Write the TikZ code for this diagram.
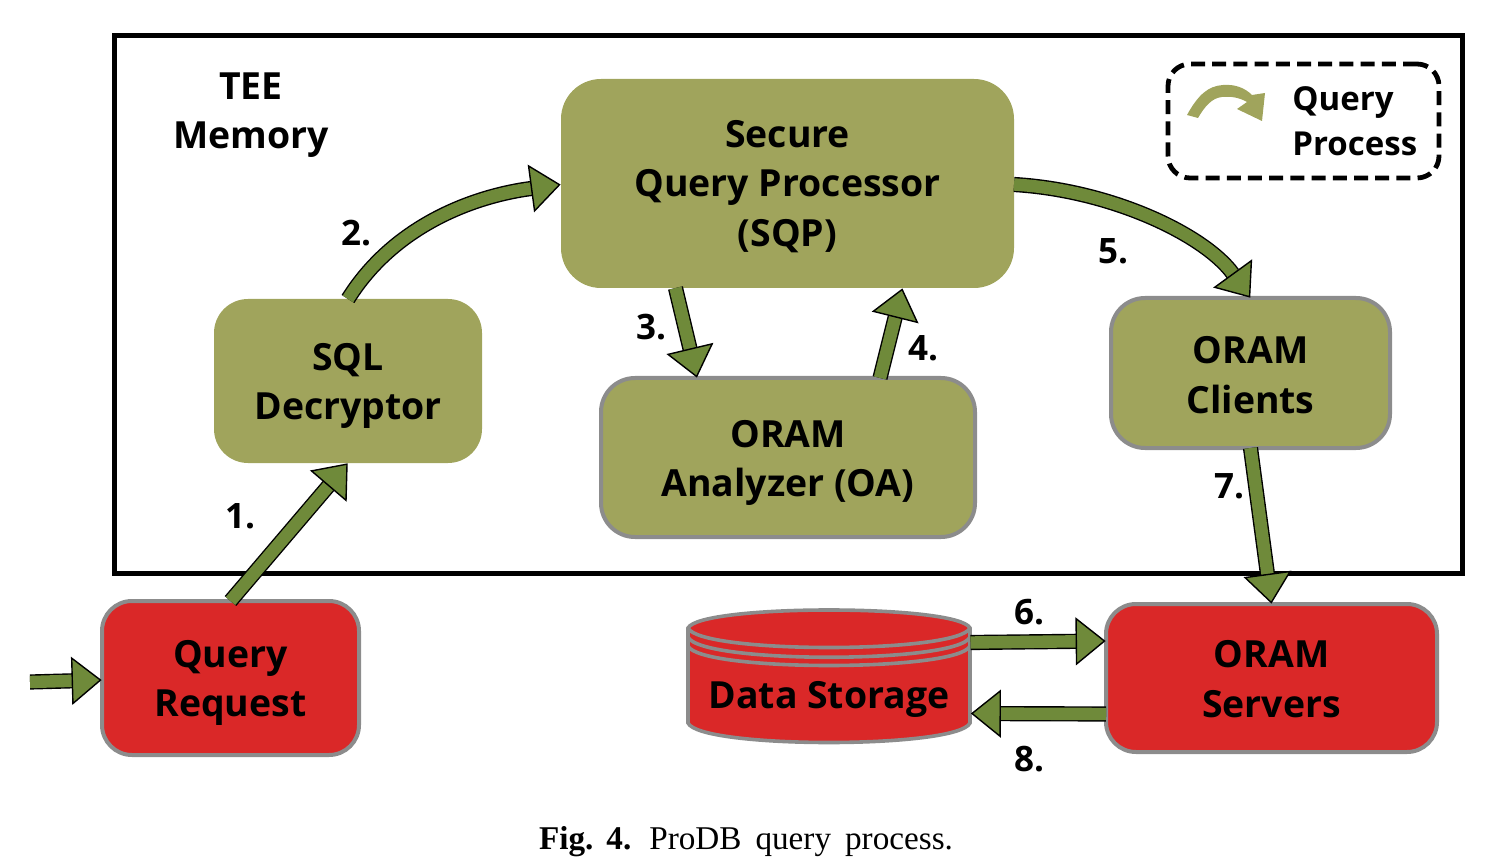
\documentclass[tikz,border=0pt]{standalone}
\usepackage{fontspec}
\setmainfont{Open Sans}
\newfontfamily\capfont{Liberation Serif}
\usetikzlibrary{arrows.meta,calc}
\definecolor{olivebox}{HTML}{A0A45C}
\definecolor{redbox}{HTML}{DA2828}
\definecolor{greyline}{HTML}{8C8C8C}
\definecolor{flowgreen}{HTML}{6F8A3A}
\newcommand{\dn}[1]{\rule{0pt}{\dimexpr13.6pt+#1pt\relax}}
\tikzset{
  base/.style={inner sep=0pt,outer sep=0pt,align=center,font=\fontsize{18.7}{24.6}\selectfont\bfseries},
  olive/.style={base,fill=olivebox,rounded corners=17pt},
  olivegrey/.style={olive,draw=greyline,line width=2pt},
  redcard/.style={base,fill=redbox,draw=greyline,line width=2pt,rounded corners=15pt},
  lab/.style={inner sep=0pt,font=\fontsize{17.5}{20}\selectfont\bfseries},
  flow/.style={draw=black,line width=.7pt,double=flowgreen,double distance=6.2pt,
    -{Triangle[length=15pt,width=24pt,fill=flowgreen,line width=.7pt]},shorten >=.2pt},
  legendtext/.style={inner sep=0pt,anchor=west,font=\fontsize{16.5}{20}\selectfont\bfseries},
}
\begin{document}
\begin{tikzpicture}[x=.5pt,y=-.5pt]
\useasboundingbox (0,0) rectangle (1500,861);
% frame
\node[draw=black,line width=2.5pt,inner sep=0pt,outer sep=0pt,minimum width=674pt,minimum height=268.5pt] (tee) at (788,304.5) {};
\node[base] (teelabel) at (251,115) {TEE\\Memory};
% legend
\node[draw=black,line width=2.4pt,dash pattern=on 7pt off 3.6pt,rounded corners=11pt,inner sep=0pt,outer sep=0pt,minimum width=135.5pt,minimum height=57pt] (legend) at (1303.5,121) {};
\fill[olivebox] (1187,115) .. controls (1198,95) and (1208,86) .. (1223,85)
  .. controls (1235,84) and (1245,88) .. (1252,95) -- (1265,93) -- (1262,121) -- (1237,109) -- (1247,102)
  .. controls (1240,98) and (1232,96) .. (1222,97)
  .. controls (1212,98) and (1205,106) .. (1198,118) -- cycle;
\node[legendtext] (lq) at (1292,103) {Query};
\node[legendtext] (lp) at (1292,144) {Process};
% cylinder
\node[inner sep=0pt,outer sep=0pt,minimum width=141.5pt,minimum height=66.5pt] (store) at (829,676.5) {};
\filldraw[fill=redbox,draw=greyline,line width=1.8pt]
  (688,628) .. controls (700,604) and (958,604) .. (970,628)
  -- (970,723) .. controls (958,749) and (700,749) .. (688,723) -- cycle;
\draw[greyline,line width=1.8pt] (688,628) .. controls (700,654) and (958,654) .. (970,628);
\draw[greyline,line width=1.8pt] (688,637) .. controls (700,664) and (958,664) .. (970,637);
\draw[greyline,line width=1.8pt] (688,646) .. controls (700,672) and (958,672) .. (970,646);
\node[base] (storelabel) at (829,699) {Data Storage};
% boxes
\coordinate (inlet) at (30,682);
\node[olive,minimum width=134pt,minimum height=82pt] (sql) at (348,381) {\dn{5}SQL\\Decryptor};
\node[olive,minimum width=226.5pt,minimum height=104.5pt,rounded corners=20pt] (sqp) at (787.5,183.5) {\dn{3}Secure\\Query Processor\\(SQP)};
\node[olivegrey,minimum width=187pt,minimum height=79.5pt] (oa) at (788,457.5) {\dn{5}ORAM\\Analyzer (OA)};
\node[olivegrey,minimum width=139.5pt,minimum height=75pt] (clients) at (1250.5,373) {\dn{2}ORAM\\Clients};
\node[redcard,minimum width=128.5pt,minimum height=77pt] (request) at (230.5,678) {\dn{5}Query\\Request};
\node[redcard,minimum width=165.5pt,minimum height=74pt] (servers) at (1271.5,678) {\dn{1}ORAM\\Servers};
% connectors
\draw[flow] (inlet) -- ([yshift=-1pt]request.west);
\draw[flow] (request.north) -- (sql.south);
\draw[flow] (sql.north) .. controls +(45,-72) and +(-90,12) .. ([yshift=-.5pt]sqp.west);
\draw[flow] ([xshift=-56pt]sqp.south) -- ([xshift=-45.5pt]oa.north);
\draw[flow] ([xshift=46pt]oa.north) -- ([xshift=57.5pt]sqp.south);
\draw[flow] ([yshift=-.5pt]sqp.east) .. controls +(100,6) and +(-45,-62) .. (clients.north);
\draw[flow] (clients.south) -- (servers.north);
\draw[flow] ([yshift=17pt]store.east) -- ([yshift=18.5pt]servers.west);
\draw[flow] ([yshift=-18pt]servers.west) -- ([yshift=-18.5pt]store.east);
% step labels
\node[lab] (n1) at (240,516) {1.};
\node[lab] (n2) at (356,233) {2.};
\node[lab] (n3) at (651,327) {3.};
\node[lab] (n4) at (923,348) {4.};
\node[lab] (n5) at (1113,251) {5.};
\node[lab] (n6) at (1029,612) {6.};
\node[lab] (n7) at (1229,486) {7.};
\node[lab] (n8) at (1029,759) {8.};
% caption
\node[inner sep=0pt,font=\capfont\fontsize{16.6}{20}\selectfont] (caption) at (746,842) {\textbf{Fig.\hspace{6.5pt}4.}\hspace{9pt}ProDB\hspace{7pt}query\hspace{7pt}process.};
\end{tikzpicture}
\end{document}
